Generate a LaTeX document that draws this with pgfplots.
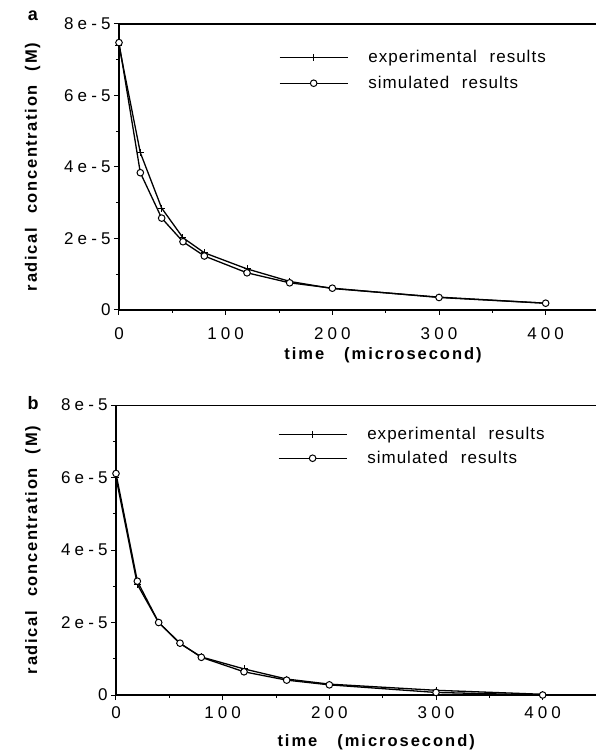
\documentclass[border=0pt]{standalone}
\usepackage{fontspec}
\setmainfont{Liberation Sans}
\usepackage{pgfplots}
\pgfplotsset{compat=1.18}

\newcommand{\gap}{\hspace{14pt}}
\newcommand{\lgap}{\hspace{7pt} }

\pgfplotsset{
  decay/.style={
    scale only axis,
    xmin=0, xmax=450, ymin=0, ymax=8e-5,
    axis x line*=bottom, axis y line*=left,
    axis line style={line width=1.2pt, -},
    tick align=outside,
    major tick length=5pt, minor tick length=3pt,
    every tick/.style={line width=1pt, black},
    xtick={0,100,200,300,400},
    xticklabels={0,100,200,300,400},
    minor xtick={50,150,250,350},
    ytick={0,2e-5,4e-5,6e-5,8e-5},
    yticklabels={0,2e-5,4e-5,6e-5,8e-5},
    minor ytick={1e-5,3e-5,5e-5,7e-5},
    scaled y ticks=false,
    ticklabel style={font=\fontsize{17}{19}\selectfont\addfontfeature{LetterSpace=24}},
    xlabel={\bfseries\addfontfeature{LetterSpace=12}time\hspace{20pt}(microsecond)},
    ylabel={\bfseries\addfontfeature{LetterSpace=10}radical\gap concentration\gap(M)},
    label style={font=\fontsize{16.5}{18}\selectfont},
    legend cell align=left,
    legend style={draw=none, fill=none, anchor=north west,
      font=\fontsize{17}{19}\selectfont\addfontfeature{LetterSpace=6},
      row sep=8pt, inner sep=0pt},
    legend image code/.code={
      \draw[mark repeat=2, mark phase=2, #1]
        plot coordinates {(0pt,0pt) (34pt,0pt) (68pt,0pt)};},
    cycle list={{black}},
    every axis plot post/.append style={black, line width=1.3pt},
  },
  expmark/.style={mark=+, mark size=3.5pt, mark options={line width=1pt, black}},
  simmark/.style={mark=*, mark size=3.3pt, mark options={fill=white, draw=black, line width=1pt}},
}

\begin{document}
\begin{tikzpicture}
\useasboundingbox (0pt,0pt) rectangle (596pt,750pt);

% panel a
\begin{axis}[decay, at={(119pt,440pt)}, anchor=south west, width=480pt, height=286pt,
  xticklabel style={yshift=-9pt},
  xlabel style={at={(axis description cs:0.55,-0.158)}, anchor=center},
  ylabel style={at={(axis description cs:-0.18,0.5)}, anchor=center},
  legend style={at={(axis description cs:0.333,0.915)}}]
\addplot+[expmark] coordinates {
  (0,7.40e-5) (20,4.40e-5) (40,2.85e-5) (60,2.02e-5) (80,1.60e-5)
  (120,1.15e-5) (160,0.80e-5) (200,0.60e-5) (300,0.36e-5) (400,0.19e-5)};
\addlegendentry{\hspace{18pt}experimental\lgap results}
\addplot+[simmark] coordinates {
  (0,7.48e-5) (20,3.84e-5) (40,2.57e-5) (60,1.91e-5) (80,1.51e-5)
  (120,1.04e-5) (160,0.76e-5) (200,0.61e-5) (300,0.35e-5) (400,0.19e-5)};
\addlegendentry{\hspace{18pt}simulated\lgap results}
\draw[line width=1.2pt] (rel axis cs:0,1) -- (rel axis cs:1,1);
\end{axis}
\node[font=\fontsize{18}{20}\selectfont\bfseries] at (33pt,734pt) {a};

% panel b
\begin{axis}[decay, at={(116pt,55pt)}, anchor=south west, width=480pt, height=290pt,
  xticklabel style={yshift=-3pt},
  xlabel style={at={(axis description cs:0.542,-0.162)}, anchor=center},
  ylabel style={at={(axis description cs:-0.173,0.5)}, anchor=center},
  legend style={at={(axis description cs:0.337,0.93)}, row sep=6pt}]
\addplot+[expmark] coordinates {
  (0,6.00e-5) (20,3.05e-5) (40,2.00e-5) (60,1.42e-5) (80,1.05e-5)
  (120,0.72e-5) (160,0.44e-5) (200,0.30e-5) (300,0.13e-5) (400,0.02e-5)};
\addlegendentry{\hspace{18pt}experimental\lgap results}
\addplot+[simmark] coordinates {
  (0,6.11e-5) (20,3.14e-5) (40,2.00e-5) (60,1.43e-5) (80,1.04e-5)
  (120,0.64e-5) (160,0.41e-5) (200,0.28e-5) (300,0.07e-5) (400,0.00e-5)};
\addlegendentry{\hspace{18pt}simulated\lgap results}
\draw[line width=1.2pt] (rel axis cs:0,1) -- (rel axis cs:1,1);
\end{axis}
\node[font=\fontsize{18}{20}\selectfont\bfseries] at (33pt,347pt) {b};
\end{tikzpicture}
\end{document}
